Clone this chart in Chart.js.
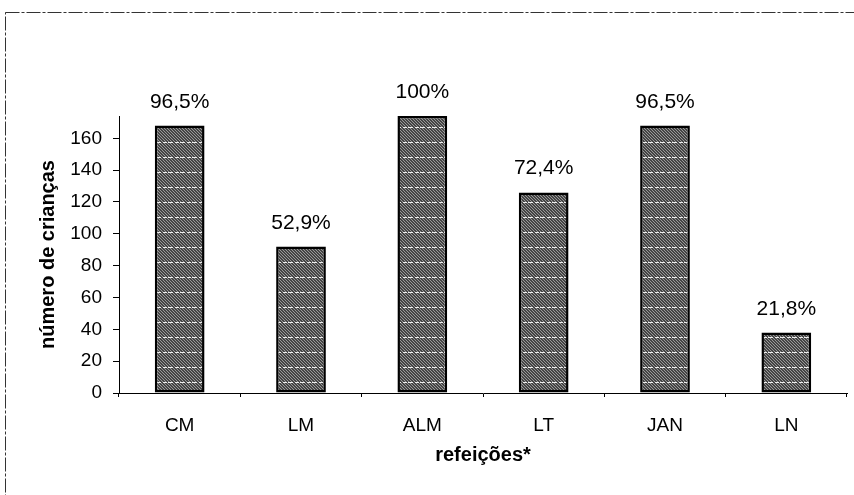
<!DOCTYPE html>
<html>
<head>
<meta charset="utf-8">
<script src="https://cdn.jsdelivr.net/npm/chart.js@4/dist/chart.umd.min.js"></script>
<style>
  html, body { margin: 0; padding: 0; background: #fff; }
  #wrap { width: 854px; height: 495px; position: relative; }
</style>
</head>
<body>
<div id="wrap"><canvas id="chart" width="854" height="495"></canvas></div>
<script>
// dados
const categorias = ['CM', 'LM', 'ALM', 'LT', 'JAN', 'LN'];
const criancas = [168, 92, 174, 126, 168, 38];
const percentuais = ['96,5%', '52,9%', '100%', '72,4%', '96,5%', '21,8%'];
const yTicks = [0, 20, 40, 60, 80, 100, 120, 140, 160];

// textura das barras: cinza escuro pontilhado com tracejado branco
function makePattern() {
  const c = document.createElement('canvas');
  c.width = 12; c.height = 15;
  const g = c.getContext('2d');
  g.fillStyle = '#444';
  g.fillRect(0, 0, 12, 15);
  g.fillStyle = '#999';
  for (let y = 0; y < 15; y++) {
    for (let x = 0; x < 12; x++) {
      if (((x * 7 + y * 5) % 3) === 0) g.fillRect(x, y, 1, 1);
    }
  }
  g.fillStyle = '#eee';
  g.fillRect(0, 7, 5, 1);
  g.fillRect(7, 7, 4, 1);
  return g.createPattern(c, 'repeat');
}

const valueLabels = {
  id: 'valueLabels',
  afterDatasetsDraw(chart) {
    const ctx = chart.ctx;
    const meta = chart.getDatasetMeta(0);
    ctx.save();
    ctx.font = '21px "Liberation Sans", Arial, sans-serif';
    ctx.fillStyle = '#000';
    ctx.textAlign = 'center';
    ctx.textBaseline = 'alphabetic';
    meta.data.forEach((bar, i) => {
      ctx.fillText(percentuais[i], bar.x, bar.y - 18);
    });
    ctx.restore();
  }
};

const frame = {
  id: 'frame',
  beforeDraw(chart) {
    const ctx = chart.ctx;
    ctx.save();
    ctx.strokeStyle = '#333';
    ctx.lineWidth = 1;
    ctx.setLineDash([14, 2, 3, 2]);
    ctx.strokeRect(5.5, 12.5, 900, 600);
    ctx.restore();
  }
};

new Chart(document.getElementById('chart'), {
  type: 'bar',
  data: {
    labels: categorias,
    datasets: [{
      data: criancas,
      backgroundColor: makePattern(),
      borderColor: '#000',
      borderWidth: 2.5,
      borderSkipped: false,
      barPercentage: 0.41,
      categoryPercentage: 1
    }]
  },
  options: {
    responsive: false,
    animation: false,
    layout: { padding: { top: 116, right: 7, left: 0, bottom: 0 } },
    plugins: { legend: { display: false }, tooltip: { enabled: false } },
    scales: {
      x: {
        afterFit(s) { s.height = 102; },
        grid: { drawOnChartArea: false, color: '#000', tickLength: 4, offset: true },
        border: { color: '#000', width: 1 },
        ticks: { color: '#000', padding: 17, font: { family: 'Liberation Sans', size: 19 } },
        title: {
          display: true, text: 'refeições*', color: '#000',
          font: { family: 'Liberation Sans', size: 20, weight: 'bold' },
          padding: { top: 0, bottom: 28 }
        }
      },
      y: {
        min: 0, max: 174,
        afterFit(s) { s.width = 119; },
        afterBuildTicks(s) { s.ticks = yTicks.map(v => ({ value: v })); },
        grid: { drawOnChartArea: false, color: '#000', tickLength: 6 },
        border: { color: '#000', width: 1 },
        ticks: { color: '#000', padding: 11, font: { family: 'Liberation Sans', size: 19 } },
        title: {
          display: true, text: 'número de crianças', color: '#000',
          font: { family: 'Liberation Sans', size: 20, weight: 'bold' },
          padding: { top: 36, bottom: 0 }
        }
      }
    }
  },
  plugins: [frame, valueLabels]
});
</script>
</body>
</html>
